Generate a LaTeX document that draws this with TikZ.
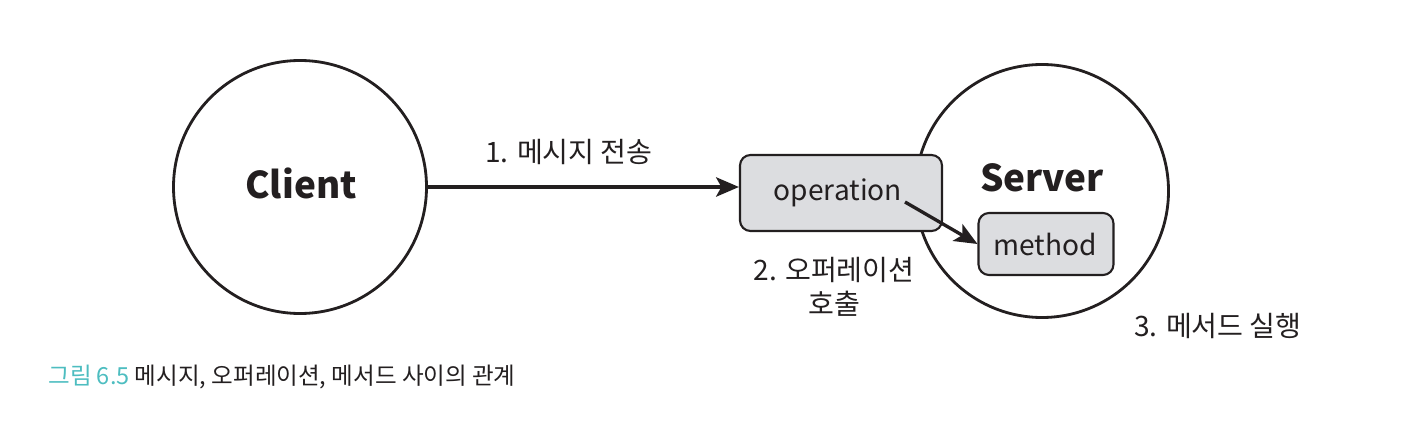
\documentclass[tikz,border=0pt]{standalone}
\usepackage{fontspec}
\setmainfont{Noto Sans CJK KR}
\usetikzlibrary{arrows.meta,positioning}
\definecolor{boxgray}{HTML}{DCDDE0}
\definecolor{teal}{HTML}{4DBDC0}
\definecolor{ink}{HTML}{231F20}
\tikzset{
    role/.style={draw=ink, line width=1.6pt, circle, minimum size=253\pxu, inner sep=0pt},
    callbox/.style={draw=ink, line width=1.2pt, fill=boxgray, rounded corners=6pt, inner sep=0pt},
    msg/.style={-{Stealth[length=13pt,width=11pt,inset=3pt]}, line width=1.9pt, draw=ink},
    note/.style={font=\fontsize{16}{19}\selectfont, text=ink, align=center}
}
\newlength{\pxu}
\setlength{\pxu}{0.02cm}
\begin{document}
\begin{tikzpicture}[x=0.02cm, y=-0.02cm]
        \useasboundingbox (0,0) rectangle (1426,432);
        \begin{scope}
            \node (client) at (300,187) [role]{}; % client
            \node (server) at (1042,191) [role]{}; % server
            \node (op) at (841,193) [callbox, minimum width=202\pxu, minimum height=76\pxu]{}; % operation
            \node (meth) at (1046,244) [callbox, minimum width=135\pxu, minimum height=62\pxu]{}; % method

            \node at (301,183) [font=\fontsize{21}{25}\selectfont\bfseries, text=ink]{Client};
            \node at (1042,178) [font=\fontsize{21}{25}\selectfont\bfseries, text=ink]{Server};
            \node (optext) at (838,193) [font=\fontsize{16}{19}\selectfont, text=ink]{operation};
            \node at (1045,244) [font=\fontsize{16}{19}\selectfont, text=ink]{method};

            \coordinate (opend) at (905,202);
            \draw[msg] (client.east) -- (client.east -| op.west);
            \draw[msg] (opend) -- (meth.west);

            \node at (569,152) [note]{1. 메시지 전송};
            \node at (834,287) [note, inner sep=0pt]{2. 오퍼레이션\\호출};
            \node at (1218,326) [note]{3. 메서드 실행};

            \node at (48,377) [anchor=west, inner sep=0pt, font=\fontsize{13.4}{16}\selectfont, text=ink]{\textcolor{teal}{그림 6.5} 메시지, 오퍼레이션, 메서드 사이의 관계};
        \end{scope}
\end{tikzpicture}
\end{document}
